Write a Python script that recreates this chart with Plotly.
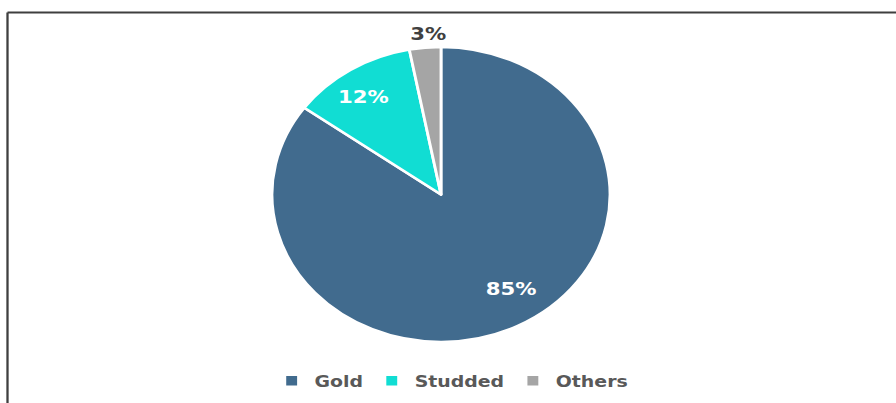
import math
import plotly.graph_objects as go

categories = ["Gold", "Studded", "Others"]
shares = [85, 12, 3]
colors = ["#416B8E", "#11DDD3", "#A5A5A5"]
label_colors = ["#FFFFFF", "#FFFFFF", "#404040"]
label_radius = [0.761, 0.809, 1.094]   # fraction of the pie radius where each label sits
label_turn = [-6.0, -2.2, 1.4]         # small angular nudge (degrees) from slice mid-angle

# the reference is horizontally stretched; render narrower and stretch with CSS
SX = 1.1458
SCREEN_W, H = 896, 403
W = round(SCREEN_W / SX)
cx, cy, r = 441 / SX, 194.5, 147.5

fig = go.Figure(go.Pie(
    labels=categories,
    values=shares,
    sort=False,
    direction="clockwise",
    rotation=0,
    marker=dict(colors=colors, line=dict(color="#FFFFFF", width=2.5)),
    textinfo="none",
    hoverinfo="label+percent",
    domain=dict(x=[(cx - r) / W, (cx + r) / W], y=[1 - (cy + r) / H, 1 - (cy - r) / H]),
))

# data labels placed along each slice's mid-angle (computed from the shares)
total = sum(shares)
annotations = []
acc = 0
for cat, v, col, k, turn in zip(categories, shares, label_colors, label_radius, label_turn):
    mid = (acc + v / 2) / total * 2 * math.pi + math.radians(turn)
    acc += v
    px = cx + k * r * math.sin(mid)
    py = cy - k * r * math.cos(mid)
    annotations.append(dict(
        x=px / W, y=1 - py / H, xref="paper", yref="paper",
        text=f"{round(v / total * 100)}%", showarrow=False,
        xanchor="center", yanchor="middle",
        font=dict(family="DejaVu Sans", size=18.5, color=col, weight="bold"),
    ))

fig.update_layout(
    width=W, height=H,
    margin=dict(l=0, r=0, t=0, b=0),
    paper_bgcolor="#FFFFFF",
    plot_bgcolor="#FFFFFF",
    showlegend=True,
    legend=dict(
        orientation="h", x=451.5 / SX / W, xanchor="center", y=1 - 381 / H, yanchor="middle",
        font=dict(family="DejaVu Sans", size=16.5, color="#595959", weight="bold"),
        itemclick=False,
    ),
    annotations=annotations,
    shapes=[
        dict(type="line", xref="paper", yref="paper", x0=7.5 / SX / W, x1=7.5 / SX / W, y0=1 - 12.5 / H, y1=0,
             line=dict(color="#3F3F3F", width=2)),
        dict(type="line", xref="paper", yref="paper", x0=7.5 / SX / W, x1=1, y0=1 - 12.5 / H, y1=1 - 12.5 / H,
             line=dict(color="#3F3F3F", width=2)),
    ],
)

post = (
    "document.documentElement.style.overflow='hidden';"
    "document.body.style.margin='0';document.body.style.overflow='hidden';"
    "var gd=document.getElementById('{plot_id}');"
    "gd.style.transformOrigin='0 0';gd.style.transform='scaleX(%s)';" % SX
)

fig.write_html("out.html", post_script=post, config={"displayModeBar": False})
